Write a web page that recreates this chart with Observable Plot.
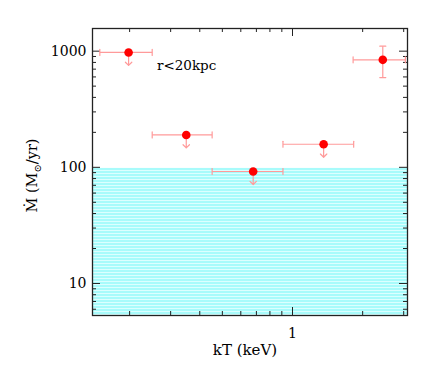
<!DOCTYPE html>
<html><head><meta charset="utf-8">
<script src="https://cdn.jsdelivr.net/npm/d3@7"></script>
<script src="https://cdn.jsdelivr.net/npm/@observablehq/plot@0.6"></script>
<style>body{margin:0;background:#fff}</style>
</head><body><div id="chart"></div>
<script>
// Data
const kT    = [0.198, 0.35, 0.678, 1.36, 2.44];
const kTlo  = [0.149, 0.25, 0.452, 0.91, 1.82];
const kThi  = [0.25, 0.452, 0.91, 1.83, 3.05];
const mdot  = [975, 190, 92, 158, 842];
const isUpper = [true, true, true, true, false];
const mdotLo = [null, null, null, null, 592];
const mdotHi = [null, null, null, null, 1103];

const bandLo = [5.3];
const bandHi = [98];

const xDomain = [0.1386, 3.115];
const yDomain = [5.3, 1567];
const yMajor = [10, 100, 1000];
const yMinor = [6, 7, 8, 9, 20, 30, 40, 50, 60, 70, 80, 90, 200, 300, 400, 500, 600, 700, 800, 900];
const xMajor = [1];
const xMinor = [0.2, 0.3, 0.4, 0.5, 0.6, 0.7, 0.8, 0.9, 2, 3];
const noteText = ["r<20kpc"];
const noteX = [0.262];
const noteY = [752];
const xTitle = "kT (keV)";

const pts = kT.map((x, i) => ({x, lo: kTlo[i], hi: kThi[i], y: mdot[i], ylo: mdotLo[i], yhi: mdotHi[i], upper: isUpper[i]}));
const caps = pts.flatMap(p => [{x: p.lo, y: p.y}, {x: p.hi, y: p.y}]);
const yErr = pts.filter(p => p.ylo != null);
const yCaps = yErr.flatMap(p => [{x: p.x, y: p.ylo}, {x: p.x, y: p.yhi}]);
const band = bandLo.map((v, i) => ({y1: v, y2: bandHi[i]}));
const notes = noteText.map((t, i) => ({t, x: noteX[i], y: noteY[i]}));

const W = 436, H = 374, ML = 92, MR = 29, MT = 28, MB = 59;
const PW = W - ML - MR, PH = H - MT - MB;
const errColor = "#ff9a9a";
const lineShape = {draw(ctx, l) { ctx.moveTo(0, 0); ctx.lineTo(0, -l); }};
const arrowShape = {draw(ctx, l) { const w = 3.2; ctx.moveTo(0, 0); ctx.lineTo(0, -l); ctx.moveTo(-w, w - l); ctx.lineTo(0, -l); ctx.lineTo(w, w - l); }};

const defs = () => {
  const d = d3.create("svg:defs");
  const p = d.append("pattern").attr("id", "stripes").attr("patternUnits", "userSpaceOnUse")
    .attr("width", 8).attr("height", 3);
  p.append("rect").attr("width", 8).attr("height", 3).attr("fill", "#dcffff");
  p.append("rect").attr("width", 8).attr("height", 2).attr("fill", "#a8fbfb");
  return d.node();
};

const tickStyle = {stroke: "#222", strokeWidth: 1};
const chart = Plot.plot({
  width: W, height: H, marginLeft: ML, marginRight: MR, marginTop: MT, marginBottom: MB,
  x: {type: "log", domain: xDomain},
  y: {type: "log", domain: yDomain},
  style: {fontFamily: "'DejaVu Serif', serif", fontSize: "14px", color: "#000", background: "#fff"},
  marks: [
    defs,
    Plot.rect(band, {y1: "y1", y2: "y2", fill: "url(#stripes)"}),
    // left/right y ticks
    Plot.tickY(yMajor, {y: d => d, insetRight: PW - 8, ...tickStyle}),
    Plot.tickY(yMinor, {y: d => d, insetRight: PW - 4, ...tickStyle}),
    Plot.tickY(yMajor, {y: d => d, insetLeft: PW - 8, ...tickStyle}),
    Plot.tickY(yMinor, {y: d => d, insetLeft: PW - 4, ...tickStyle}),
    // bottom/top x ticks
    Plot.tickX(xMajor, {x: d => d, insetTop: PH - 8, ...tickStyle}),
    Plot.tickX(xMinor, {x: d => d, insetTop: PH - 4, ...tickStyle}),
    Plot.tickX(xMajor, {x: d => d, insetBottom: PH - 8, ...tickStyle}),
    Plot.tickX(xMinor, {x: d => d, insetBottom: PH - 4, ...tickStyle}),
    Plot.axisY({ticks: yMajor, tickSize: 0, tickPadding: 6, tickFormat: d => String(d), label: null, fontSize: 14}),
    Plot.axisX({ticks: xMajor, tickSize: 0, tickPadding: 13, tickFormat: d => String(d), label: null, fontSize: 14}),
    Plot.frame({stroke: "#222", strokeWidth: 1.3}),
    // error bars
    Plot.link(pts, {x1: "lo", x2: "hi", y1: "y", y2: "y", stroke: errColor, strokeWidth: 1.2}),
    Plot.vector(caps, {x: "x", y: "y", length: 6, rotate: 0, anchor: "middle", shape: lineShape, stroke: errColor, strokeWidth: 1.2}),
    Plot.link(yErr, {x1: "x", x2: "x", y1: "ylo", y2: "yhi", stroke: errColor, strokeWidth: 1.2}),
    Plot.vector(yCaps, {x: "x", y: "y", length: 6, rotate: 90, anchor: "middle", shape: lineShape, stroke: errColor, strokeWidth: 1.2}),
    Plot.vector(pts.filter(p => p.upper), {x: "x", y: "y", length: 13, rotate: 180, anchor: "start", shape: arrowShape, stroke: errColor, strokeWidth: 1.2}),
    Plot.dot(pts, {x: "x", y: "y", r: 4.3, fill: "#ff0000", stroke: "none"}),
    Plot.text(notes, {x: "x", y: "y", text: "t", textAnchor: "start", fontSize: 13.5, fontWeight: "normal", fill: "#000"}),
    Plot.text([xTitle], {text: d => d, frameAnchor: "bottom", dy: 39, dx: -5, fontSize: 15, fill: "#000"})
  ]
});

// rotated y-axis title with subscript
const svg = d3.select(chart);
const yt = svg.append("text")
  .attr("transform", `translate(37,${MT + PH / 2 + 4}) rotate(-90)`)
  .attr("text-anchor", "middle")
  .attr("font-family", "'DejaVu Serif', serif")
  .attr("font-size", 14.5)
  .attr("fill", "#000");
yt.append("tspan").text("Ṁ (M");
yt.append("tspan").attr("font-size", 10).attr("dy", 4).text("⊙");
yt.append("tspan").attr("dy", -4).text("/yr)");

document.getElementById("chart").appendChild(chart);
</script>
</body></html>
